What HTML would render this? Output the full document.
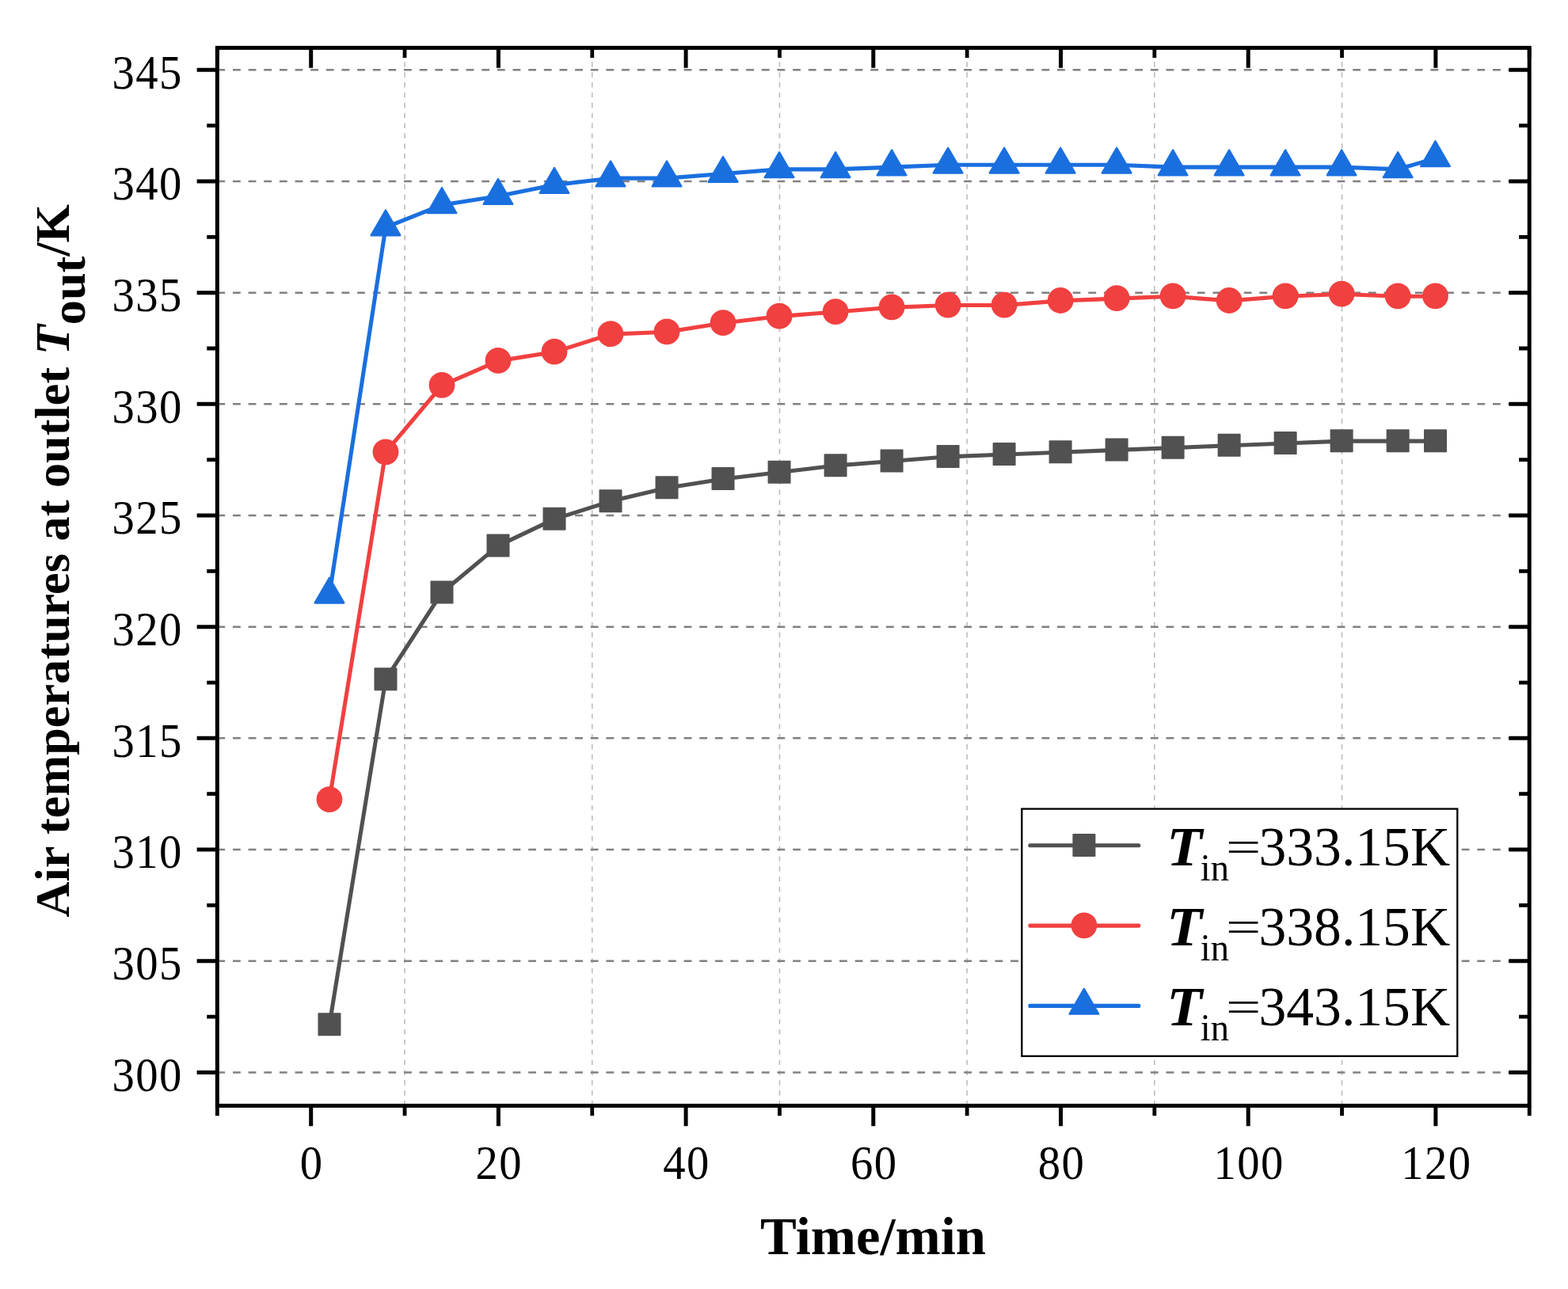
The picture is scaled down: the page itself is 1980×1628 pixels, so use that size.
<!DOCTYPE html>
<html lang="en"><head><meta charset="utf-8"><title>Air temperatures at outlet</title>
<style>html,body{margin:0;padding:0;background:#fff}body{width:1980px;height:1628px;overflow:hidden}svg{display:block}text{font-family:"Liberation Serif",serif;fill:#000}.tk{font-size:60.3px;letter-spacing:1.5px}.b{font-weight:bold}.bi{font-weight:bold;font-style:italic}</style></head><body>
<svg width="1980" height="1628" viewBox="0 0 1980 1628">
<rect width="1980" height="1628" fill="#fff"/>
<g fill="none" stroke="#bcbcbc" stroke-width="1.6" stroke-dasharray="6.43 6.43">
<path d="M511.05 1396.5V60.4"/>
<path d="M747.75 1396.5V60.4"/>
<path d="M984.45 1396.5V60.4"/>
<path d="M1221.15 1396.5V60.4"/>
<path d="M1457.85 1396.5V60.4"/>
<path d="M1694.55 1396.5V60.4"/>
</g>
<g fill="none" stroke="#808080" stroke-width="2.5" stroke-dasharray="9.821 9.821">
<path d="M274.35 1354.38H1931.2"/>
<path d="M274.35 1213.71H1931.2"/>
<path d="M274.35 1073.04H1931.2"/>
<path d="M274.35 932.37H1931.2"/>
<path d="M274.35 791.7H1931.2"/>
<path d="M274.35 651.03H1931.2"/>
<path d="M274.35 510.36H1931.2"/>
<path d="M274.35 369.69H1931.2"/>
<path d="M274.35 229.02H1931.2"/>
<path d="M274.35 88.35H1931.2"/>
</g>
<polyline points="415.97,1294.25 486.98,858.17 557.99,748.45 629,689.37 700.01,655.61 771.02,633.1 842.03,616.22 913.04,604.97 984.05,596.53 1055.06,588.09 1126.07,582.46 1197.08,576.83 1268.09,574.02 1339.1,571.2 1410.11,568.39 1481.12,565.58 1552.13,562.76 1623.14,559.95 1694.15,557.14 1765.16,557.14 1812.5,557.14" fill="none" stroke="#515151" stroke-width="5.1" stroke-linejoin="round" stroke-linecap="round"/>
<g fill="#515151">
<rect x="401.47" y="1279.35" width="29" height="29" rx="0.9"/>
<rect x="472.48" y="843.27" width="29" height="29" rx="0.9"/>
<rect x="543.49" y="733.55" width="29" height="29" rx="0.9"/>
<rect x="614.5" y="674.47" width="29" height="29" rx="0.9"/>
<rect x="685.51" y="640.71" width="29" height="29" rx="0.9"/>
<rect x="756.52" y="618.2" width="29" height="29" rx="0.9"/>
<rect x="827.53" y="601.32" width="29" height="29" rx="0.9"/>
<rect x="898.54" y="590.07" width="29" height="29" rx="0.9"/>
<rect x="969.55" y="581.63" width="29" height="29" rx="0.9"/>
<rect x="1040.56" y="573.19" width="29" height="29" rx="0.9"/>
<rect x="1111.57" y="567.56" width="29" height="29" rx="0.9"/>
<rect x="1182.58" y="561.93" width="29" height="29" rx="0.9"/>
<rect x="1253.59" y="559.12" width="29" height="29" rx="0.9"/>
<rect x="1324.6" y="556.3" width="29" height="29" rx="0.9"/>
<rect x="1395.61" y="553.49" width="29" height="29" rx="0.9"/>
<rect x="1466.62" y="550.68" width="29" height="29" rx="0.9"/>
<rect x="1537.63" y="547.86" width="29" height="29" rx="0.9"/>
<rect x="1608.64" y="545.05" width="29" height="29" rx="0.9"/>
<rect x="1679.65" y="542.24" width="29" height="29" rx="0.9"/>
<rect x="1750.66" y="542.24" width="29" height="29" rx="0.9"/>
<rect x="1798" y="542.24" width="29" height="29" rx="0.9"/>
</g>
<polyline points="415.97,1010.1 486.98,571.2 557.99,486.8 629,455.86 700.01,444.6 771.02,422.09 842.03,419.28 913.04,408.03 984.05,399.59 1055.06,393.96 1126.07,388.33 1197.08,385.52 1268.09,385.52 1339.1,379.89 1410.11,377.08 1481.12,374.27 1552.13,379.89 1623.14,374.27 1694.15,371.45 1765.16,374.27 1812.5,374.27" fill="none" stroke="#f14040" stroke-width="5.1" stroke-linejoin="round" stroke-linecap="round"/>
<g fill="#f14040">
<circle cx="415.97" cy="1009.7" r="16.4"/>
<circle cx="486.98" cy="570.8" r="16.4"/>
<circle cx="557.99" cy="486.4" r="16.4"/>
<circle cx="629" cy="455.46" r="16.4"/>
<circle cx="700.01" cy="444.2" r="16.4"/>
<circle cx="771.02" cy="421.69" r="16.4"/>
<circle cx="842.03" cy="418.88" r="16.4"/>
<circle cx="913.04" cy="407.63" r="16.4"/>
<circle cx="984.05" cy="399.19" r="16.4"/>
<circle cx="1055.06" cy="393.56" r="16.4"/>
<circle cx="1126.07" cy="387.93" r="16.4"/>
<circle cx="1197.08" cy="385.12" r="16.4"/>
<circle cx="1268.09" cy="385.12" r="16.4"/>
<circle cx="1339.1" cy="379.49" r="16.4"/>
<circle cx="1410.11" cy="376.68" r="16.4"/>
<circle cx="1481.12" cy="373.87" r="16.4"/>
<circle cx="1552.13" cy="379.49" r="16.4"/>
<circle cx="1623.14" cy="373.87" r="16.4"/>
<circle cx="1694.15" cy="371.05" r="16.4"/>
<circle cx="1765.16" cy="373.87" r="16.4"/>
<circle cx="1812.5" cy="373.87" r="16.4"/>
</g>
<polyline points="415.97,751.26 486.98,287.05 557.99,258.92 629,247.66 700.01,233.6 771.02,225.16 842.03,225.16 913.04,219.53 984.05,213.9 1055.06,213.9 1126.07,211.09 1197.08,208.28 1268.09,208.28 1339.1,208.28 1410.11,208.28 1481.12,211.09 1552.13,211.09 1623.14,211.09 1694.15,211.09 1765.16,213.9 1812.5,199.84" fill="none" stroke="#1a6fdf" stroke-width="5.1" stroke-linejoin="round" stroke-linecap="round"/>
<g fill="#1a6fdf" stroke="#1a6fdf" stroke-width="2.4" stroke-linejoin="round">
<path d="M415.97 729.73L434.27 761.43L397.67 761.43Z"/>
<path d="M486.98 265.52L505.28 297.22L468.68 297.22Z"/>
<path d="M557.99 237.38L576.29 269.08L539.69 269.08Z"/>
<path d="M629 226.13L647.3 257.83L610.7 257.83Z"/>
<path d="M700.01 212.06L718.31 243.76L681.71 243.76Z"/>
<path d="M771.02 203.62L789.32 235.32L752.72 235.32Z"/>
<path d="M842.03 203.62L860.33 235.32L823.73 235.32Z"/>
<path d="M913.04 198L931.34 229.7L894.74 229.7Z"/>
<path d="M984.05 192.37L1002.35 224.07L965.75 224.07Z"/>
<path d="M1055.06 192.37L1073.36 224.07L1036.76 224.07Z"/>
<path d="M1126.07 189.56L1144.37 221.26L1107.77 221.26Z"/>
<path d="M1197.08 186.74L1215.38 218.44L1178.78 218.44Z"/>
<path d="M1268.09 186.74L1286.39 218.44L1249.79 218.44Z"/>
<path d="M1339.1 186.74L1357.4 218.44L1320.8 218.44Z"/>
<path d="M1410.11 186.74L1428.41 218.44L1391.81 218.44Z"/>
<path d="M1481.12 189.56L1499.42 221.26L1462.82 221.26Z"/>
<path d="M1552.13 189.56L1570.43 221.26L1533.83 221.26Z"/>
<path d="M1623.14 189.56L1641.44 221.26L1604.84 221.26Z"/>
<path d="M1694.15 189.56L1712.45 221.26L1675.85 221.26Z"/>
<path d="M1765.16 192.37L1783.46 224.07L1746.86 224.07Z"/>
<path d="M1812.5 178.3L1830.8 210L1794.2 210Z"/>
</g>
<g fill="none" stroke="#000" stroke-width="5">
<path d="M392.7 1396.5V1422.2M392.7 60.4V85.8M629.4 1396.5V1422.2M629.4 60.4V85.8M866.1 1396.5V1422.2M866.1 60.4V85.8M1102.8 1396.5V1422.2M1102.8 60.4V85.8M1339.5 1396.5V1422.2M1339.5 60.4V85.8M1576.2 1396.5V1422.2M1576.2 60.4V85.8M1812.9 1396.5V1422.2M1812.9 60.4V85.8M274.35 1354.38H248.65M1931.2 1354.38H1905.3M274.35 1213.71H248.65M1931.2 1213.71H1905.3M274.35 1073.04H248.65M1931.2 1073.04H1905.3M274.35 932.37H248.65M1931.2 932.37H1905.3M274.35 791.7H248.65M1931.2 791.7H1905.3M274.35 651.03H248.65M1931.2 651.03H1905.3M274.35 510.36H248.65M1931.2 510.36H1905.3M274.35 369.69H248.65M1931.2 369.69H1905.3M274.35 229.02H248.65M1931.2 229.02H1905.3M274.35 88.35H248.65M1931.2 88.35H1905.3"/>
<path stroke-width="4.8" d="M274.35 1396.5V1409.3M274.35 60.4V72.9M511.05 1396.5V1409.3M511.05 60.4V72.9M747.75 1396.5V1409.3M747.75 60.4V72.9M984.45 1396.5V1409.3M984.45 60.4V72.9M1221.15 1396.5V1409.3M1221.15 60.4V72.9M1457.85 1396.5V1409.3M1457.85 60.4V72.9M1694.55 1396.5V1409.3M1694.55 60.4V72.9M1931.25 1396.5V1409.3M1931.25 60.4V72.9M274.35 1284.04H261.25M1931.2 1284.04H1918.1M274.35 1143.38H261.25M1931.2 1143.38H1918.1M274.35 1002.71H261.25M1931.2 1002.71H1918.1M274.35 862.04H261.25M1931.2 862.04H1918.1M274.35 721.37H261.25M1931.2 721.37H1918.1M274.35 580.7H261.25M1931.2 580.7H1918.1M274.35 440.02H261.25M1931.2 440.02H1918.1M274.35 299.36H261.25M1931.2 299.36H1918.1M274.35 158.69H261.25M1931.2 158.69H1918.1"/>
<rect x="274.35" y="60.4" width="1656.85" height="1336.1" stroke-linejoin="miter"/>
</g>
<g class="tk" text-anchor="end">
<text transform="translate(230.85 1377.63) scale(0.94 1)">300</text>
<text transform="translate(230.85 1236.96) scale(0.94 1)">305</text>
<text transform="translate(230.85 1096.29) scale(0.94 1)">310</text>
<text transform="translate(230.85 955.62) scale(0.94 1)">315</text>
<text transform="translate(230.85 814.95) scale(0.94 1)">320</text>
<text transform="translate(230.85 674.28) scale(0.94 1)">325</text>
<text transform="translate(230.85 533.61) scale(0.94 1)">330</text>
<text transform="translate(230.85 392.94) scale(0.94 1)">335</text>
<text transform="translate(230.85 252.27) scale(0.94 1)">340</text>
<text transform="translate(230.85 111.6) scale(0.94 1)">345</text>
</g>
<g class="tk" text-anchor="middle">
<text transform="translate(393.6 1488.7) scale(0.94 1)">0</text>
<text transform="translate(630.3 1488.7) scale(0.94 1)">20</text>
<text transform="translate(867 1488.7) scale(0.94 1)">40</text>
<text transform="translate(1103.7 1488.7) scale(0.94 1)">60</text>
<text transform="translate(1340.4 1488.7) scale(0.94 1)">80</text>
<text transform="translate(1577.1 1488.7) scale(0.94 1)">100</text>
<text transform="translate(1813.8 1488.7) scale(0.94 1)">120</text>
</g>
<text class="b" x="960.1" y="1584.2" font-size="68.7">Time/min</text>
<text class="b" transform="translate(86.9 1158.4) rotate(-90)" font-size="62.28">Air temperatures at outlet <tspan class="bi">T</tspan><tspan dy="19.6">out</tspan><tspan dy="-19.6">/K</tspan></text>
<rect x="1290.3" y="1021.6" width="550" height="312.3" fill="#fff" stroke="#000" stroke-width="2.3"/>
<path d="M1300.8 1067.75H1437.8" fill="none" stroke="#515151" stroke-width="5.1" stroke-linecap="round"/>
<g fill="#515151"><rect x="1354.4" y="1052.95" width="29" height="29" rx="0.9"/></g>
<text class="bi" transform="translate(1473.3 1092.8) scale(1.068 1)" font-size="68.85">T</text>
<text transform="translate(1515.7 1112.1) scale(0.947 1)" font-size="49.2">in</text>
<text transform="translate(1548.1 1088.8) scale(1.13 0.81)" font-size="69.5">=</text>
<text x="1589.5" y="1092.6" font-size="69.6">333.15K</text>
<path d="M1300.8 1169.1H1437.8" fill="none" stroke="#f14040" stroke-width="5.1" stroke-linecap="round"/>
<g fill="#f14040"><circle cx="1368.9" cy="1168.8" r="16.4"/></g>
<text class="bi" transform="translate(1473.3 1194) scale(1.068 1)" font-size="68.85">T</text>
<text transform="translate(1515.7 1213.3) scale(0.947 1)" font-size="49.2">in</text>
<text transform="translate(1548.1 1190) scale(1.13 0.81)" font-size="69.5">=</text>
<text x="1589.5" y="1193.8" font-size="69.6">338.15K</text>
<path d="M1300.8 1270.4H1437.8" fill="none" stroke="#1a6fdf" stroke-width="5.1" stroke-linecap="round"/>
<g fill="#1a6fdf" stroke="#1a6fdf" stroke-width="2.4" stroke-linejoin="round"><path d="M1368.9 1248.97L1387.2 1280.67L1350.6 1280.67Z"/></g>
<text class="bi" transform="translate(1473.3 1295.15) scale(1.068 1)" font-size="68.85">T</text>
<text transform="translate(1515.7 1314.45) scale(0.947 1)" font-size="49.2">in</text>
<text transform="translate(1548.1 1291.15) scale(1.13 0.81)" font-size="69.5">=</text>
<text x="1589.5" y="1294.95" font-size="69.6">343.15K</text>
</svg></body></html>
